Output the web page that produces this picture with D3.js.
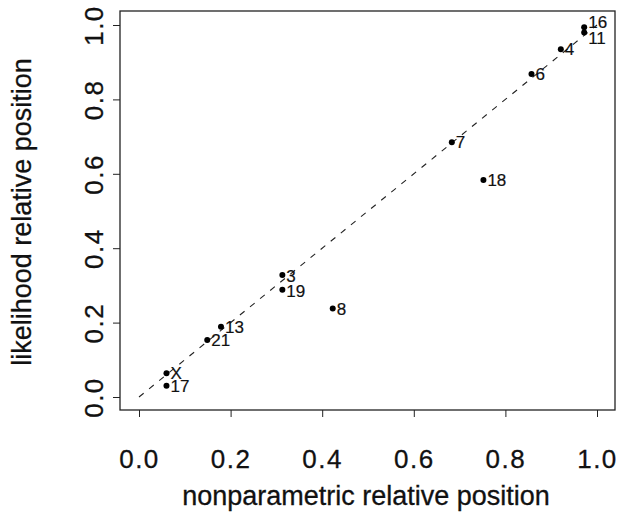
<!DOCTYPE html>
<html lang="en">
<head>
    <meta charset="UTF-8">
    <title>Relative position comparison</title>
    <script src="https://d3js.org/d3.v7.min.js"></script>
    <style>
        body { margin: 0; padding: 0; background: #fff; }
        svg { display: block; font-family: "Liberation Sans", Arial, sans-serif; }
        .axis text { font-size: 26px; fill: #111; letter-spacing: 1.5px; stroke: #111; stroke-width: 0.3px; }
        .axis line, .axis path { stroke: #222; }
        .title { font-size: 27px; fill: #111; stroke: #111; stroke-width: 0.3px; }
        .lab { font-size: 17px; fill: #111; stroke: #111; stroke-width: 0.2px; }
    </style>
</head>
<body>
<svg id="chart" width="619" height="518"></svg>

<script>
    // point labels and their positions
    const labels = ["16", "11", "4", "6", "7", "18", "3", "19", "8", "13", "21", "X", "17"];
    const nonparametric = [0.972, 0.972, 0.921, 0.857, 0.683, 0.752, 0.313, 0.313, 0.423, 0.179, 0.149, 0.060, 0.060];
    const likelihood = [0.994, 0.980, 0.935, 0.868, 0.685, 0.583, 0.328, 0.288, 0.238, 0.189, 0.153, 0.064, 0.030];
    const tickValues = [0, 0.2, 0.4, 0.6, 0.8, 1.0];

    const data = labels.map((l, i) => ({ label: l, x: nonparametric[i], y: likelihood[i] }));

    const svg = d3.select("#chart");
    const box = { left: 120, top: 11, right: 615, bottom: 410 };

    const x = d3.scaleLinear().domain([0, 1]).range([139, 597]);
    const y = d3.scaleLinear().domain([0, 1]).range([397, 25]);

    // plot frame
    svg.append("rect")
        .attr("x", box.left).attr("y", box.top)
        .attr("width", box.right - box.left).attr("height", box.bottom - box.top)
        .attr("fill", "none").attr("stroke", "#222").attr("stroke-width", 1.3);

    // x axis
    const gx = svg.append("g").attr("class", "axis")
        .attr("transform", `translate(0,${box.bottom})`)
        .call(d3.axisBottom(x).tickValues(tickValues).tickSize(7).tickSizeOuter(0)
            .tickFormat(d3.format(".1f")));
    gx.select(".domain").remove();
    gx.selectAll("text").attr("y", 58).attr("dy", 0);

    // y axis, labels turned like R's default
    const gy = svg.append("g").attr("class", "axis")
        .attr("transform", `translate(${box.left},0)`)
        .call(d3.axisLeft(y).tickValues(tickValues).tickSize(7).tickSizeOuter(0)
            .tickFormat(d3.format(".1f")));
    gy.select(".domain").remove();
    gy.selectAll("text")
        .attr("x", 0).attr("y", 0).attr("dy", 0)
        .attr("text-anchor", "middle")
        .attr("transform", "translate(-17,0) rotate(-90)");

    // axis titles
    svg.append("text").attr("class", "title")
        .attr("x", 366).attr("y", 505).attr("text-anchor", "middle")
        .text("nonparametric relative position");
    svg.append("text").attr("class", "title")
        .attr("transform", "translate(31,212) rotate(-90)")
        .attr("text-anchor", "middle")
        .text("likelihood relative position");

    // identity line
    svg.append("line")
        .attr("x1", x(0)).attr("y1", y(0))
        .attr("x2", x(1)).attr("y2", y(1))
        .attr("stroke", "#222").attr("stroke-width", 1.1)
        .attr("stroke-dasharray", "6,7");

    // points
    svg.selectAll("circle.pt").data(data).join("circle")
        .attr("class", "pt")
        .attr("cx", d => x(d.x)).attr("cy", d => y(d.y))
        .attr("r", 3).attr("fill", "#000");

    // labels to the right; two crowded ones nudged apart
    const nudge = { "16": -5, "11": 5, "3": 1, "19": 1 };
    svg.selectAll("text.lab").data(data).join("text")
        .attr("class", "lab")
        .attr("x", d => x(d.x) + 4)
        .attr("y", d => y(d.y) + (nudge[d.label] || 0))
        .attr("dy", "0.36em")
        .text(d => d.label);
</script>
</body>
</html>
